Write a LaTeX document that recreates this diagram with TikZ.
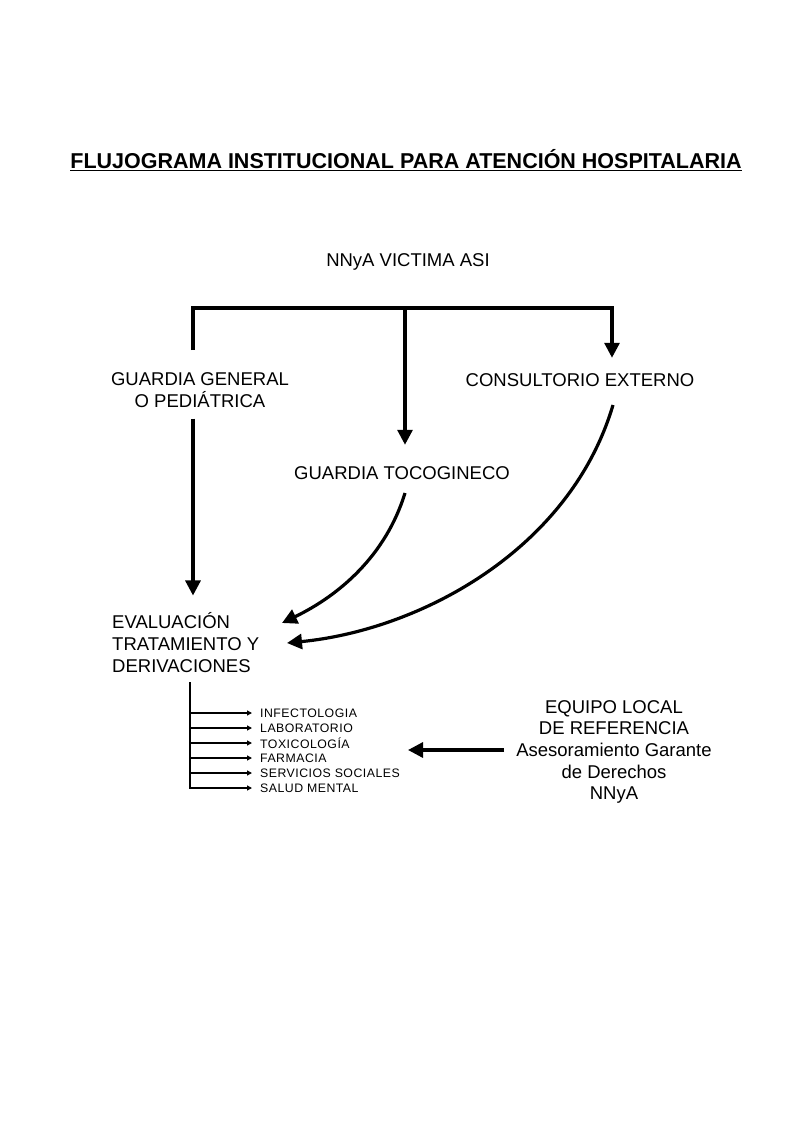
\documentclass[tikz,border=0pt]{standalone}
\usepackage{fontspec}
\setmainfont{Liberation Sans}
\usetikzlibrary{arrows.meta}
\begin{document}
\begin{tikzpicture}[x=1pt,y=-1pt,
  txt/.style={inner sep=0pt, font=\fontsize{18.5}{21.7}\selectfont, align=center},
  small/.style={inner sep=0pt, anchor=west, font=\fontsize{12.3}{14}\selectfont\addfontfeature{LetterSpace=4}},
  link/.style={line width=3.2pt},
  arr/.style={line width=3.2pt, -{Triangle[length=15pt,width=15pt]}},
  sarr/.style={line width=1.6pt, -{Triangle[length=5pt,width=5pt]}}]
\useasboundingbox (0,0) rectangle (795,1135);
\fill[white] (0,0) rectangle (795,1135);

% title
\node[inner sep=0pt, font=\fontsize{21.5}{24}\bfseries\selectfont] (title) at (406,160)
  {\underline{FLUJOGRAMA INSTITUCIONAL PARA ATENCIÓN HOSPITALARIA}};

% nodes
\node[txt] (vic) at (408,262) {NNyA VICTIMA ASI};
\node[txt] (gg) at (200,390) {GUARDIA GENERAL\\O PEDIÁTRICA};
\node[txt] (ce) at (580,380) {CONSULTORIO EXTERNO};
\node[txt] (gt) at (402,473.5) {GUARDIA TOCOGINECO};
\node[txt, align=left, anchor=west] (ev) at (112,642.5) {EVALUACIÓN\\TRATAMIENTO Y\\DERIVACIONES};
\node[txt] (eq) at (614,752) {EQUIPO LOCAL\\DE REFERENCIA\\Asesoramiento Garante\\de Derechos\\NNyA};

% top bracket
\coordinate (bl) at (193,308);
\coordinate (bm) at (405,308);
\coordinate (br) at (612,308);
\coordinate (glt) at (193,350);
\draw[link, line join=miter] (glt) -- (bl) -- (br) -- ([yshift=-3pt]br);
\draw[arr, shorten >=22pt] (bm) -- (bm |- gt.north);
\draw[arr, shorten >=15.5pt] (br) -- (br |- ce.north);

% guardia general -> evaluacion
\draw[arr, shorten <=11pt, shorten >=17pt] (gg.south -| bl) -- (ev.north -| bl);

% curves
\coordinate (gts) at (405,493);
\coordinate (ces) at (613,405);
\coordinate (e1) at (282,623);
\coordinate (e2) at (287,643);
\draw[arr] (gts) .. controls (386,555) and (340,595) .. (e1);
\draw[arr] (ces) .. controls (570,550) and (420,630) .. (e2);

% derivations list
\coordinate (vt) at (190,682);
\coordinate (vb) at (190,788);
\draw[line width=1.6pt] (vt) -- (vb);
\foreach \n/\y/\t in {a/713/INFECTOLOGIA, b/728/LABORATORIO, c/743/TOXICOLOGÍA, d/758/FARMACIA, e/773/SERVICIOS SOCIALES, f/788/SALUD MENTAL}{
  \node[small] (l\n) at (260,\y) {\t};
  \draw[sarr] ([xshift=-0.8pt]vt |- l\n.west) -- ([xshift=-8pt]l\n.west);
}

% equipo -> list
\coordinate (tgt) at (408,750);
\draw[arr, shorten <=12pt] (eq.west |- tgt) -- (tgt);
\end{tikzpicture}
\end{document}
